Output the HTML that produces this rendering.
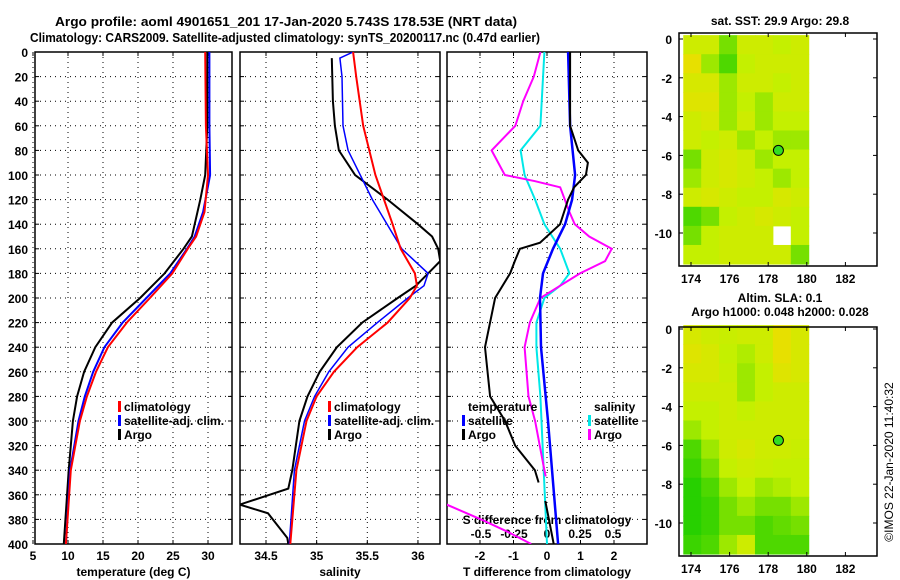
<!DOCTYPE html>
<html><head><meta charset="utf-8">
<style>
body{margin:0;background:#fff;}
svg{display:block;font-family:"Liberation Sans",Arial,sans-serif;font-weight:bold;}
</style></head>
<body>
<svg id="c" width="900" height="580" viewBox="0 0 900 580" xmlns="http://www.w3.org/2000/svg">
<text x="55" y="26" textLength="462" lengthAdjust="spacingAndGlyphs" font-size="13">Argo profile: aoml 4901651_201 17-Jan-2020 5.743S 178.53E (NRT data)</text>
<text x="30" y="42" textLength="510" lengthAdjust="spacingAndGlyphs" font-size="13">Climatology: CARS2009. Satellite-adjusted climatology: synTS_20200117.nc (0.47d earlier)</text>
<text x="780" y="25" text-anchor="middle" font-size="12">sat. SST: 29.9 Argo: 29.8</text>
<text x="780" y="302" text-anchor="middle" font-size="12">Altim. SLA: 0.1</text>
<text x="780" y="316" text-anchor="middle" font-size="12">Argo h1000: 0.048 h2000: 0.028</text>
<text transform="translate(893,462) rotate(-90)" text-anchor="middle" font-size="12" font-weight="normal">©IMOS 22-Jan-2020 11:40:32</text>
</svg>
<script>
// ---------- data ----------
const depthTicks=[0,20,40,60,80,100,120,140,160,180,200,220,240,260,280,300,320,340,360,380,400];
const tempTicks=[5,10,15,20,25,30];
const salTicks=[34.5,35,35.5,36];
const tdiffTicks=[-2,-1,0,1,2];
const sdiffTicks=[-0.5,-0.25,0,0.25,0.5];
const tdiffLabels=['-2','-1','0','1','2'];
const sdiffLabels=['-0.5','-0.25','0','0.25','0.5'];

const tClimDepth=[0,60,100,130,150,160,180,200,220,240,260,280,300,340,400];
const tClimVal=[29.6,29.7,30,29.5,28.3,27.1,24.9,21.7,18.4,15.7,14,12.7,11.7,10.4,9.7];
const tSatDepth=[0,60,100,130,150,160,180,200,220,240,260,280,300,340,400];
const tSatVal=[30.2,30.2,30.3,29.3,28.1,27,24.6,21.2,17.8,15.2,13.6,12.4,11.5,10.3,9.7];
const tArgoDepth=[0,60,100,120,150,160,180,200,220,240,260,280,300,340,400];
const tArgoVal=[29.9,29.9,29.6,28.9,27.7,26.5,23.8,20.3,16.3,13.9,12.3,11.3,10.7,10.1,9.4];

const sClimDepth=[0,20,60,100,140,160,180,190,200,220,240,260,280,300,340,400];
const sClimVal=[35.36,35.39,35.46,35.58,35.75,35.83,35.97,35.99,35.92,35.7,35.4,35.17,35.0,34.9,34.8,34.74];
const sSatDepth=[0,5,20,60,80,120,160,180,190,200,220,240,260,280,300,340,400];
const sSatVal=[35.36,35.23,35.25,35.26,35.31,35.55,35.84,36.1,36.06,35.9,35.6,35.31,35.12,34.98,34.88,34.78,34.73];
const sArgoDepth=[5,40,60,80,100,120,140,150,160,170,180,190,200,220,240,260,280,300,340,355,368,375,395,400];
const sArgoVal=[35.15,35.16,35.18,35.22,35.38,35.7,36.0,36.14,36.2,36.22,36.1,35.98,35.8,35.45,35.2,35.03,34.91,34.83,34.76,34.72,34.24,34.52,34.71,34.72];

const dtSatDepth=[0,60,100,120,140,160,180,200,240,300,400];
const dtSatVal=[0.63,0.69,0.84,0.75,0.54,0.18,-0.12,-0.21,-0.18,0.03,0.33];
const dtArgoDepth=[0,60,80,90,100,110,120,140,155,160,170,180,200,240,280,300,320,340,350,null,365,400];
const dtArgoVal=[0.69,0.69,0.93,1.22,1.16,0.81,0.63,0.39,-0.21,-0.81,-0.96,-1.1,-1.55,-1.85,-1.7,-1.25,-0.95,-0.36,-0.25,null,-0.05,0.2];
const dsArgoDepth=[0,20,40,60,80,100,105,110,130,140,150,160,170,180,190,200,220,240,280,300,340,345,null,368,380,390,400];
const dsArgoVal=[-0.05,-0.1,-0.18,-0.24,-0.42,-0.32,-0.09,0.1,0.17,0.21,0.32,0.49,0.44,0.25,0.1,-0.05,-0.13,-0.17,-0.14,-0.09,-0.02,-0.01,null,-0.76,-0.5,-0.3,-0.12];
const dsSatDepth=[0,60,80,100,120,140,160,180,190,200,220,240,280,400];
const dsSatVal=[-0.02,-0.05,-0.2,-0.17,-0.09,-0.02,0.1,0.17,0.1,-0.02,-0.08,-0.08,-0.05,0.0];

const mapLons=[174,176,178,180,182];
const mapLats=[0,-2,-4,-6,-8,-10];
const sstGrid=[
[0.6,0.6,0.3,0.6,0.6,0.5,0.6],
[0.9,0.4,0.2,0.5,0.6,0.6,0.6],
[0.7,0.7,0.4,0.6,0.6,0.5,0.6],
[0.8,0.8,0.4,0.5,0.4,0.6,0.6],
[0.6,0.7,0.4,0.6,0.4,0.5,0.5],
[0.6,0.5,0.6,0.4,0.5,0.4,0.4],
[0.3,0.6,0.7,0.6,0.4,0.5,0.5],
[0.4,0.6,0.7,0.6,0.5,0.4,0.5],
[0.6,0.7,0.6,0.5,0.5,0.7,0.6],
[0.2,0.3,0.5,0.6,0.7,0.6,0.5],
[0.3,0.5,0.6,0.6,0.6,-1,0.5],
[0.5,0.5,0.6,0.6,0.6,0.6,0.3]];
const slaGrid=[
[0.7,0.6,0.55,0.6,0.6,0.9,0.7],
[0.8,0.7,0.5,0.45,0.6,0.9,0.7],
[0.7,0.7,0.55,0.4,0.5,0.8,0.7],
[0.6,0.6,0.6,0.4,0.5,0.6,0.6],
[0.5,0.5,0.6,0.5,0.6,0.6,0.6],
[0.4,0.5,0.6,0.6,0.6,0.6,0.6],
[0.2,0.4,0.6,0.7,0.6,0.6,0.55],
[0.15,0.3,0.5,0.6,0.55,0.5,0.5],
[0.1,0.2,0.4,0.5,0.4,0.45,0.5],
[0.1,0.15,0.3,0.4,0.3,0.3,0.4],
[0.1,0.15,0.3,0.3,0.2,0.25,0.3],
[0.15,0.2,0.4,0.6,0.2,0.2,0.2]];
const argoPos=[178.53,-5.743];

// ---------- drawing ----------
const svg=document.getElementById('c');
const NS='http://www.w3.org/2000/svg';
function mk(tag,at,parent){const e=document.createElementNS(NS,tag);for(const k in at)e.setAttribute(k,at[k]);(parent||svg).appendChild(e);return e;}
const Y0=52,Y1=544;
const yD=d=>Y0+(Y1-Y0)*d/400;
const panels=[
 {x0:35,x1:232,f:v=>33+7*(v-5),ticks:tempTicks,labels:tempTicks.map(String),title:'temperature (deg C)',name:'temperature-panel'},
 {x0:240,x1:440,f:v=>266+101.3*(v-34.5),ticks:salTicks,labels:salTicks.map(String),title:'salinity',name:'salinity-panel'},
 {x0:447,x1:647,f:v=>547+33.5*v,ticks:tdiffTicks,labels:tdiffLabels,title:'T difference from climatology',name:'difference-panel'}
];
panels.forEach((p,i)=>{
 const g=mk('g',{});
 
 
 depthTicks.forEach(d=>{
  if(d>0&&d<400){const l=mk('line',{x1:p.x0,x2:p.x1,y1:yD(d),y2:yD(d),stroke:'#000','stroke-width':1,'stroke-dasharray':'1 4'},g);
   }
  mk('line',{x1:p.x0,x2:p.x0+4,y1:yD(d),y2:yD(d),stroke:'#000'},g);
  mk('line',{x1:p.x1,x2:p.x1-4,y1:yD(d),y2:yD(d),stroke:'#000'},g);
  if(i==0){const t=mk('text',{x:28,y:yD(d)+5,'text-anchor':'end','font-size':12},g);t.textContent=d;
   }
 });
 p.ticks.forEach((v,j)=>{
  const x=p.f(v);
  const l=mk('line',{x1:x,x2:x,y1:Y0,y2:Y1,stroke:'#000','stroke-dasharray':'1 4'},g);
  
  mk('line',{x1:x,x2:x,y1:Y1,y2:Y1-4,stroke:'#000'},g);
  mk('line',{x1:x,x2:x,y1:Y0,y2:Y0+4,stroke:'#000'},g);
  const t=mk('text',{x:x,y:560,'text-anchor':'middle','font-size':12},g);t.textContent=p.labels[j];
  
 });
 const r=mk('rect',{x:p.x0,y:Y0,width:p.x1-p.x0,height:Y1-Y0,fill:'none',stroke:'#000','stroke-width':1.5},g);
 
 const t=mk('text',{x:(p.x0+p.x1)/2,y:576,'text-anchor':'middle','font-size':12},g);t.textContent=p.title;
 
});
// S-diff inner axis
const sdx=v=>547+132*v;
sdiffTicks.forEach((v,j)=>{
 const t=mk('text',{x:sdx(v),y:538,'text-anchor':'middle','font-size':12});t.textContent=sdiffLabels[j];
 
});
{const t=mk('text',{x:547,y:524,'text-anchor':'middle','font-size':12});t.textContent='S difference from climatology';
 }

function series(depths,vals,fx,color,name,w){
 let d='',pen=false;
 for(let k=0;k<depths.length;k++){
  if(depths[k]===null||vals[k]===null){pen=false;continue;}
  const x=fx(vals[k]),y=yD(depths[k]);
  d+=(pen?'L':'M')+x.toFixed(1)+' '+y.toFixed(1);pen=true;
 }
 const p=mk('path',{d:d,fill:'none',stroke:color,'stroke-width':w||2});
 
 
}
const clipDefs=mk('defs',{});
panels.forEach((p,i)=>{const c=mk('clipPath',{id:'cp'+i},clipDefs);mk('rect',{x:p.x0,y:Y0,width:p.x1-p.x0,height:Y1-Y0},c);});
function inClip(i,fn){const before=svg.childNodes.length;fn();const g=mk('g',{'clip-path':'url(#cp'+i+')'});
 while(svg.childNodes.length-1>before){g.appendChild(svg.childNodes[before]);}}
inClip(0,()=>{
 series(tArgoDepth,tArgoVal,panels[0].f,'#000','temp-argo-line');
 series(tSatDepth,tSatVal,panels[0].f,'#0000ff','temp-satellite-line');
 series(tClimDepth,tClimVal,panels[0].f,'#ff0000','temp-climatology-line');
});
inClip(1,()=>{
 series(sArgoDepth,sArgoVal,panels[1].f,'#000','salinity-argo-line');
 series(sSatDepth,sSatVal,panels[1].f,'#0000ff','salinity-satellite-line',1.5);
 series(sClimDepth,sClimVal,panels[1].f,'#ff0000','salinity-climatology-line');
});
inClip(2,()=>{
 series(dsSatDepth,dsSatVal,sdx,'#00e8e8','s-diff-satellite-line');
 series(dsArgoDepth,dsArgoVal,sdx,'#ff00ff','s-diff-argo-line');
 series(dtSatDepth,dtSatVal,panels[2].f,'#0000ff','t-diff-satellite-line',2.5);
 series(dtArgoDepth,dtArgoVal,panels[2].f,'#000','t-diff-argo-line');
});
// legends
function legend(x,y,color,label,name){
 const g=mk('g',{});
 if(color)mk('rect',{x:x-6,y:y-10,width:3,height:11,fill:color},g);
 const t=mk('text',{x:x,y:y,'font-size':12},g);t.textContent=label;
}
legend(124,411,'#ff0000','climatology','legend-climatology');
legend(124,425,'#0000ff','satellite-adj. clim.','legend-satellite-adj');
legend(124,439,'#000','Argo','legend-argo');
legend(334,411,'#ff0000','climatology','legend-sal-climatology');
legend(334,425,'#0000ff','satellite-adj. clim.','legend-sal-satellite-adj');
legend(334,439,'#000','Argo','legend-sal-argo');
legend(468,411,null,'temperature','legend-temperature-heading');
legend(468,425,'#0000ff','satellite','legend-t-satellite');
legend(468,439,'#000','Argo','legend-t-argo');
legend(594,411,null,'salinity','legend-salinity-heading');
legend(594,425,'#00e8e8','satellite','legend-s-satellite');
legend(594,439,'#ff00ff','Argo','legend-s-argo');

// maps
function col(v){
 const a=[0,200,0],b=[196,240,0],c=[240,220,0];
 let r;if(v<0.5){const t=v/0.5;r=a.map((x,i)=>x+(b[i]-x)*t);}else{const t=(v-0.5)/0.5;r=b.map((x,i)=>x+(c[i]-x)*t);}
 return 'rgb('+r.map(Math.round).join(',')+')';
}
function drawMap(top,bot,lat0y,grid,name){
 const fx=lon=>691+19.3*(lon-174);
 const fy=lat=>lat0y-19.4*lat;
 const g=mk('g',{});
 const lonA=173.6,lonB=180.1,latA=0.2,latB=-11.6;
 const nc=grid[0].length,nr=grid.length;
 const cw=(lonB-lonA)/nc,ch=(latA-latB)/nr;
 grid.forEach((row,ri)=>row.forEach((v,ci)=>{
  if(v<0)return;
  const x=fx(lonA+ci*cw),y=fy(latA-ri*ch);
  const r=mk('rect',{x:x,y:y,width:fx(lonA+(ci+1)*cw)-x+0.5,height:fy(latA-(ri+1)*ch)-y+0.5,fill:col(v)},g);
  
 }));
 const cc=mk('circle',{cx:fx(argoPos[0]),cy:fy(argoPos[1]),r:5,fill:'#33dd22',stroke:'#000'},g);
 
 mk('rect',{x:679,y:top,width:198,height:bot-top,fill:'none',stroke:'#000','stroke-width':1.5},g);
 mapLons.forEach(l=>{const x=fx(l);mk('line',{x1:x,x2:x,y1:top,y2:top+4,stroke:'#000'},g);mk('line',{x1:x,x2:x,y1:bot,y2:bot-4,stroke:'#000'},g);
  const t=mk('text',{x:x,y:bot+17,'text-anchor':'middle','font-size':12},g);t.textContent=l;
  });
 mapLats.forEach(l=>{const y=fy(l);mk('line',{x1:679,x2:683,y1:y,y2:y,stroke:'#000'},g);mk('line',{x1:877,x2:873,y1:y,y2:y,stroke:'#000'},g);
  const t=mk('text',{x:672,y:y+5,'text-anchor':'end','font-size':12},g);t.textContent=l;
  });
}
drawMap(33,266,39,sstGrid,'sst-map');
drawMap(327,556,329,slaGrid,'sla-map');
</script>
</body></html>
